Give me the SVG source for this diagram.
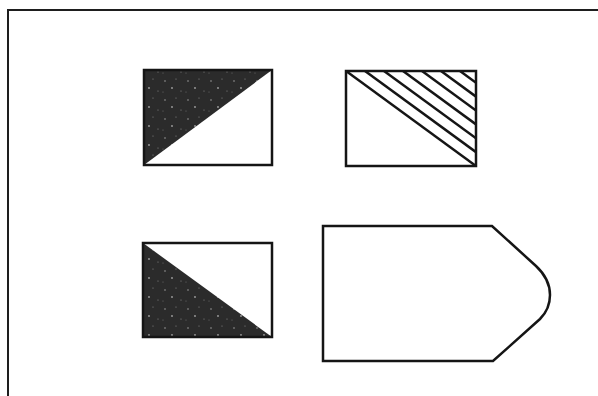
<svg xmlns="http://www.w3.org/2000/svg" width="598" height="396" viewBox="0 0 598 396">
<style>
.sh{fill:none;stroke:#151515;stroke-width:2.5;stroke-linejoin:miter}
.dark{fill:url(#speck);stroke:none}
.hatch{stroke:#151515;stroke-width:2.5;fill:none}
.frame{fill:none;stroke:#1e1e1e;stroke-width:2}
</style>
<defs>
<pattern id="speck" width="23" height="19" patternUnits="userSpaceOnUse">
<rect width="23" height="19" fill="#2b2b2b"/>
<circle cx="4" cy="5" r="0.8" fill="#9a9a9a"/>
<circle cx="15" cy="3" r="0.6" fill="#888"/>
<circle cx="11" cy="12" r="0.9" fill="#a0a0a0"/>
<circle cx="20" cy="15" r="0.6" fill="#888"/>
<circle cx="2" cy="16" r="0.5" fill="#777"/>
</pattern>
<clipPath id="c2"><rect x="346" y="71" width="130" height="95"/></clipPath>
</defs>
<path class="frame" d="M8,396 V10 H598"/>
<g id="box1">
<path class="dark" d="M144,70 H272 L144,165 Z"/>
<rect class="sh" x="144" y="70" width="128" height="95"/>
</g>
<g id="box2">
<g clip-path="url(#c2)">
<line class="hatch" x1="346" y1="71" x2="476" y2="166"/>
<line class="hatch" x1="365" y1="71" x2="495" y2="166"/>
<line class="hatch" x1="384" y1="71" x2="514" y2="166"/>
<line class="hatch" x1="403" y1="71" x2="533" y2="166"/>
<line class="hatch" x1="422" y1="71" x2="552" y2="166"/>
<line class="hatch" x1="441" y1="71" x2="571" y2="166"/>
<line class="hatch" x1="460" y1="71" x2="590" y2="166"/>
</g>
<rect class="sh" x="346" y="71" width="130" height="95"/>
</g>
<g id="box3">
<path class="dark" d="M143,243 L272,337 H143 Z"/>
<rect class="sh" x="143" y="243" width="129" height="94"/>
</g>
<g id="shape4">
<path class="sh" d="M323,226 H492 L536,266 Q550,279 550,295 Q550,309 540,319 L493,361 H323 Z"/>
</g>
<g id="connectors"/>
</svg>
